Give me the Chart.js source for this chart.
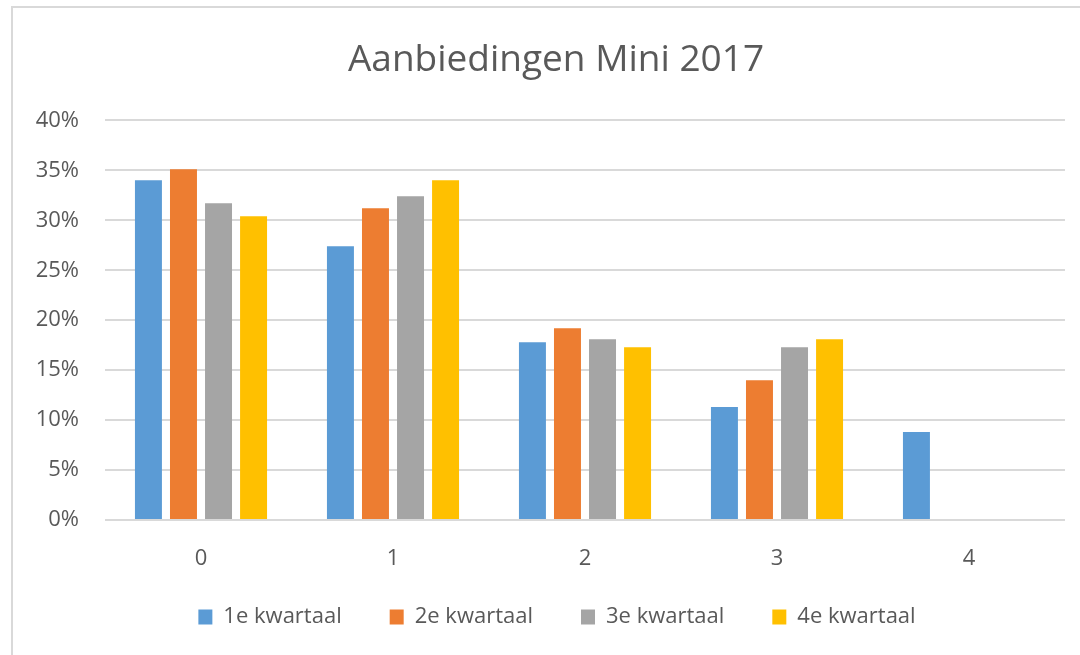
<!DOCTYPE html>
<html>
<head>
<meta charset="utf-8">
<script src="https://cdn.jsdelivr.net/npm/chart.js@4"></script>
<style>
  html, body { margin: 0; padding: 0; background: #fff; }
  #wrap { position: relative; width: 1080px; height: 655px; overflow: hidden; }
  #frame { position: absolute; left: 11px; top: 6px; width: 1200px; height: 800px;
           border-left: 2px solid #d9d9d9; border-top: 2px solid #d9d9d9; }
  canvas { position: absolute; left: 0; top: 0; }
</style>
</head>
<body>
<div id="wrap">
  <div id="frame"></div>
  <canvas id="myChart" width="1080" height="655"></canvas>
</div>
<script>
const categories = ['0', '1', '2', '3', '4'];
const seriesNames = ['1e kwartaal', '2e kwartaal', '3e kwartaal', '4e kwartaal'];
const kwartaal1 = [34.0, 27.4, 17.8, 11.3, 8.8];
const kwartaal2 = [35.1, 31.2, 19.2, 14.0, 0];
const kwartaal3 = [31.7, 32.4, 18.1, 17.3, 0];
const kwartaal4 = [30.4, 34.0, 17.3, 18.1, 0];
const yTicks = [0, 5, 10, 15, 20, 25, 30, 35, 40];

const colors = ['#5B9BD5', '#ED7D31', '#A5A5A5', '#FFC000'];
const values = [kwartaal1, kwartaal2, kwartaal3, kwartaal4];
const textFont = "'Open Sans', sans-serif";

// title and legend are centred on the whole chart frame, not on the canvas
const centreOnFrame = {
    id: 'centreOnFrame',
    afterLayout(chart) {
        chart.titleBlock.left = 47;
        chart.legend.left = 49;
        chart.legend.top = 558;
        chart.legend.bottom = 638;
    }
};

const ctx = document.getElementById('myChart').getContext('2d');
new Chart(ctx, {
    type: 'bar',
    data: {
        labels: categories,
        datasets: seriesNames.map((name, i) => ({
            label: name,
            data: values[i],
            backgroundColor: colors[i],
            borderWidth: 0,
            categoryPercentage: 0.73,
            barPercentage: 0.77
        }))
    },
    plugins: [centreOnFrame],
    options: {
        responsive: false,
        animation: false,
        layout: { padding: { top: 38, right: 15, bottom: 0, left: 0 } },
        plugins: {
            title: {
                display: true,
                text: 'Aanbiedingen Mini 2017',
                color: '#595959',
                font: { family: textFont, size: 37, weight: 'normal' },
                padding: { top: 0, bottom: 38 }
            },
            legend: {
                position: 'bottom',
                labels: {
                    color: '#595959',
                    font: { family: textFont, size: 22 },
                    boxWidth: 14,
                    boxHeight: 15,
                    padding: 48
                }
            },
            tooltip: { enabled: false }
        },
        scales: {
            x: {
                grid: { display: false },
                border: { display: false },
                ticks: { color: '#595959', font: { family: textFont, size: 22 }, padding: 18 },
                afterFit: scale => { scale.height = 55; }
            },
            y: {
                min: 0,
                max: 40,
                afterBuildTicks: scale => { scale.ticks = yTicks.map(v => ({ value: v })); },
                grid: { color: '#d9d9d9', lineWidth: 2, drawTicks: false },
                border: { display: false },
                ticks: {
                    color: '#595959',
                    font: { family: textFont, size: 22 },
                    padding: 26,
                    callback: v => v + '%'
                },
                afterFit: scale => { scale.width = 105; }
            }
        }
    }
});
</script>
</body>
</html>
